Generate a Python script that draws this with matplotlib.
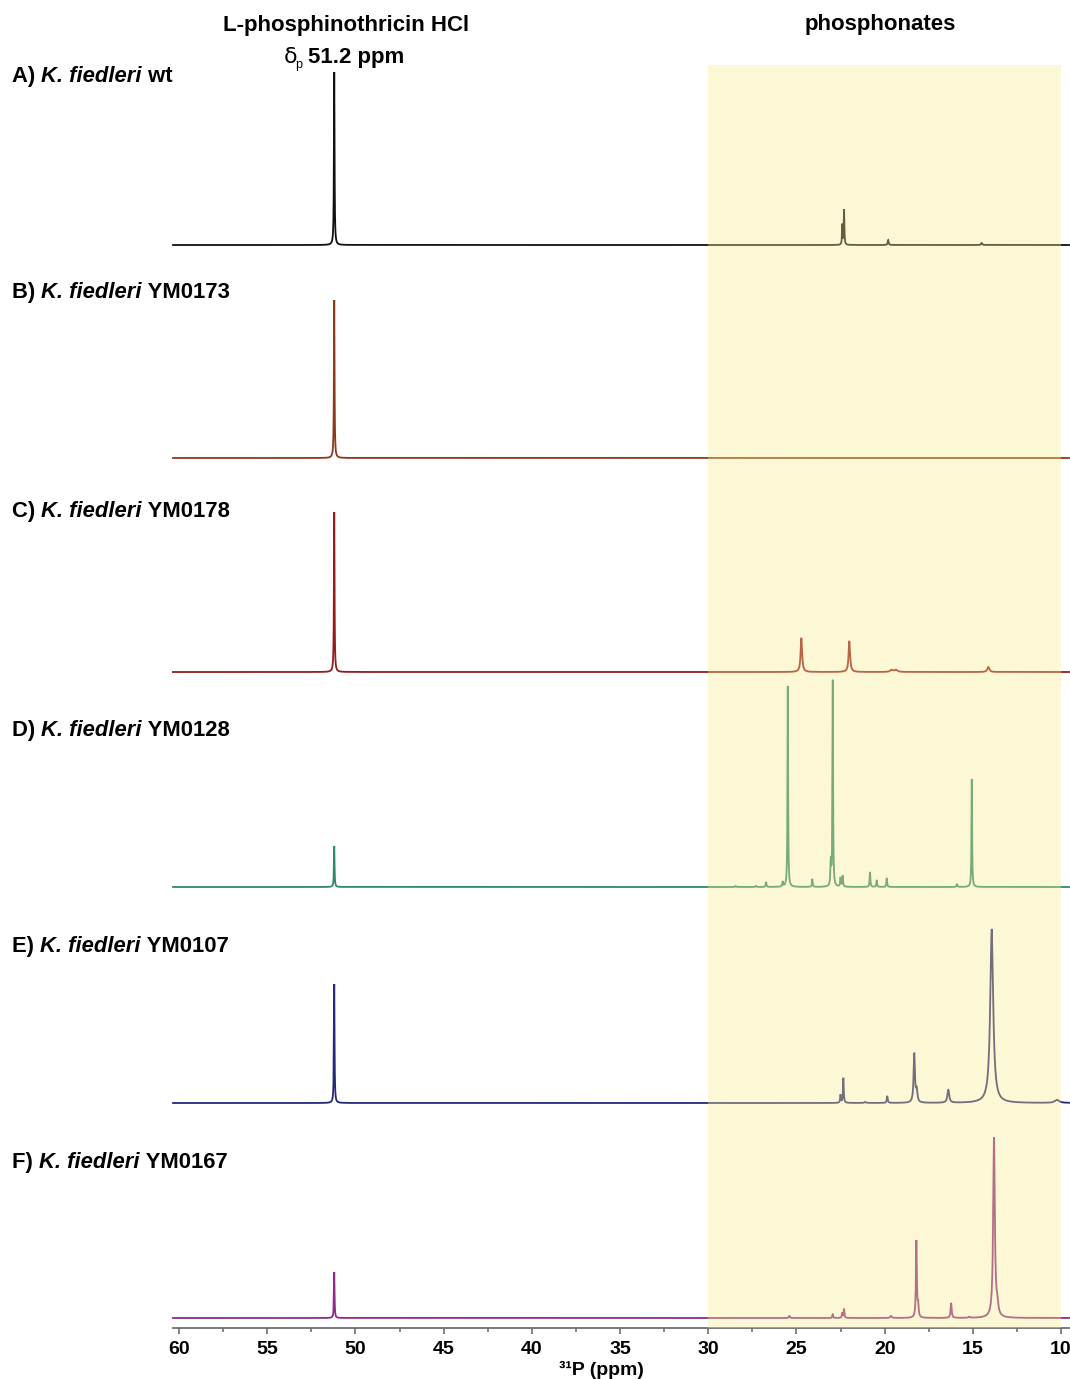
import numpy as np
import matplotlib
matplotlib.use("Agg")
import matplotlib.pyplot as plt
from matplotlib.ticker import MultipleLocator

plt.rcParams['font.family'] = ['Liberation Sans', 'DejaVu Sans']

W, H = 1070, 1379

# 31P NMR peaks: shift (ppm), height (px), half width (ppm)
labels = ["A)", "B)", "C)", "D)", "E)", "F)"]
strains = ["wt", "YM0173", "YM0178", "YM0128", "YM0107", "YM0167"]
colors = ["#111111", "#8b3a1c", "#951b1e", "#2f8a68", "#25297a", "#8e2b8a"]

a_ppm = [51.2, 22.4, 22.3, 19.8, 14.5]
a_int = [173, 20, 35, 5, 2]
a_hw = [0.02, 0.02, 0.02, 0.03, 0.04]

b_ppm = [51.2]
b_int = [158]
b_hw = [0.02]

c_ppm = [51.2, 24.72, 22.0, 19.6, 19.35, 14.12]
c_int = [160, 34, 31, 2, 2, 5]
c_hw = [0.02, 0.05, 0.05, 0.1, 0.1, 0.07]

d_ppm = [51.2, 28.44, 27.3, 26.72, 25.78, 25.49, 24.1, 23.05, 22.94, 22.5,
         22.38, 20.83, 20.45, 19.88, 15.9, 15.06]
d_int = [41, 1, 1, 5, 5, 201, 8, 24, 206, 9, 11, 15, 7, 9, 3, 108]
d_hw = [0.02, 0.03, 0.03, 0.025, 0.025, 0.02, 0.025, 0.025, 0.02, 0.025,
        0.025, 0.025, 0.025, 0.025, 0.03, 0.02]

e_ppm = [51.2, 22.5, 22.34, 21.1, 19.85, 18.32, 18.18, 16.39, 13.93, 10.23]
e_int = [119, 8, 25, 1, 7, 49, 12, 13, 174, 3]
e_hw = [0.02, 0.025, 0.025, 0.05, 0.03, 0.045, 0.045, 0.06, 0.1, 0.15]

f_ppm = [51.2, 25.4, 22.94, 22.4, 22.3, 19.64, 18.2, 18.1, 16.23, 15.2, 13.8, 13.61]
f_int = [46, 2, 4, 5, 9, 2, 77, 12, 15, 1, 180, 10]
f_hw = [0.02, 0.03, 0.025, 0.025, 0.025, 0.05, 0.03, 0.03, 0.035, 0.05, 0.055, 0.06]

spectra = [(a_ppm, a_int, a_hw), (b_ppm, b_int, b_hw), (c_ppm, c_int, c_hw),
           (d_ppm, d_int, d_hw), (e_ppm, e_int, e_hw), (f_ppm, f_int, f_hw)]

# baseline of every trace, pixels from the top of the figure
base_px = [245, 458, 672, 887, 1103, 1318]
label_px = [82, 298, 517, 736, 952, 1168]

x_lo, x_hi = 9.55, 60.34
ax_left, ax_right, ax_top, ax_bot = 173, 1069, 65, 1328

fig = plt.figure(figsize=(W / 100, H / 100), dpi=100)
ax = fig.add_axes([ax_left / W, 1 - ax_bot / H, (ax_right - ax_left) / W,
                   (ax_bot - ax_top) / H])

x = np.arange(x_lo, x_hi, 0.002)
for (ppm, inten, hw), col, bp in zip(spectra, colors, base_px):
    y = np.zeros_like(x)
    for p, i, w in zip(ppm, inten, hw):
        y += i * w ** 2 / ((x - p) ** 2 + w ** 2)
    ax.plot(x, y + (ax_bot - bp), color=col, lw=1.3, clip_on=False,
            solid_joinstyle='miter')

# phosphonate region overlay
ax.axvspan(10, 30, color="#f7e98a", alpha=0.36, lw=0, zorder=5)

ax.set_xlim(x_hi, x_lo)
ax.set_ylim(0, ax_bot - ax_top)
for s in ["top", "left", "right"]:
    ax.spines[s].set_visible(False)
ax.spines["bottom"].set_color("#6e6e6e")
ax.spines["bottom"].set_linewidth(1.3)
ax.set_yticks([])
ax.xaxis.set_major_locator(MultipleLocator(5))
ax.xaxis.set_minor_locator(MultipleLocator(2.5))
ax.tick_params(axis="x", which="both", direction="out", colors="#6e6e6e",
               width=1.2, labelcolor="black", pad=5)
ax.tick_params(axis="x", which="major", length=4)
ax.tick_params(axis="x", which="minor", length=3)
for t in ax.get_xticklabels():
    t.set_fontweight("bold")
    t.set_fontsize(14)
ax.patch.set_alpha(0)

def fx(px):
    return px / W

def fy(py):
    return 1 - py / H

fig.text(fx(601), fy(1375), "³¹P (ppm)", fontsize=14, fontweight="bold",
         ha="center", va="baseline")

renderer = fig.canvas.get_renderer()

def rich(x0, y0, parts, size):
    xx = x0
    for s, style, weight in parts:
        t = fig.text(fx(xx), fy(y0), s, fontsize=size, fontstyle=style,
                     fontweight=weight, ha="left", va="baseline")
        xx += t.get_window_extent(renderer).width

for lab, strain, ly in zip(labels, strains, label_px):
    rich(12, ly, [(lab + " ", "normal", "bold"), ("K. fiedleri", "italic", "bold"),
                  (" " + strain, "normal", "bold")], 15.8)

fig.text(fx(346), fy(31), "L-phosphinothricin HCl", fontsize=16, fontweight="bold",
         ha="center", va="baseline")
fig.text(fx(880), fy(30), "phosphonates", fontsize=16, fontweight="bold",
         ha="center", va="baseline")
fig.text(fx(284), fy(63), "δ", fontsize=16, ha="left", va="baseline",
         family=['DejaVu Sans'])
fig.text(fx(295), fy(68), "p", fontsize=9, ha="left", va="baseline")
fig.text(fx(308), fy(63), "51.2 ppm", fontsize=16, fontweight="bold",
         ha="left", va="baseline")

fig.savefig("out.png", dpi=100)
